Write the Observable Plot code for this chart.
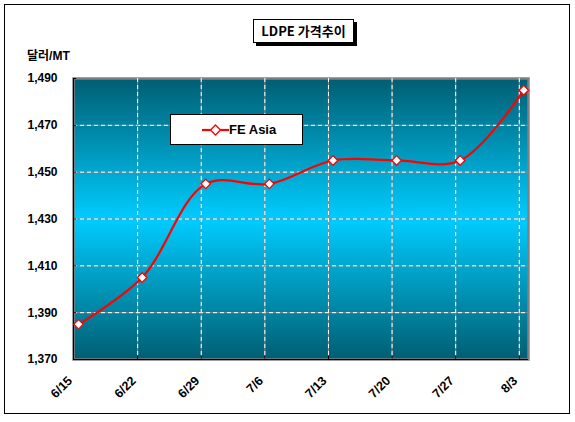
<!DOCTYPE html>
<html>
<head>
<meta charset="utf-8">
<script src="https://cdn.jsdelivr.net/npm/d3@7"></script>
<script src="https://cdn.jsdelivr.net/npm/@observablehq/plot@0.6"></script>
<style>
  html, body { margin: 0; padding: 0; background: #fff; }
  #wrap { position: relative; width: 575px; height: 422px; font-family: "Liberation Sans", Arial, "Noto Sans CJK KR", sans-serif; }
  #wrap svg.plot { position: absolute; left: 0; top: 0; }
  .outer { position: absolute; left: 4px; top: 4px; width: 564px; height: 408px; border: 1px solid #000; box-sizing: content-box; pointer-events: none; }
  .title { position: absolute; left: 253px; top: 19px; width: 99px; height: 22px; border: 1px solid #000; background: #fff; box-shadow: 3px 3px 0 #000; font: bold 13px "Noto Sans CJK KR", "Liberation Sans", sans-serif; line-height: 22px; text-align: center; }
  .ylab { position: absolute; left: 27px; top: 47px; font: bold 12px "Liberation Sans", "Noto Sans CJK KR", sans-serif; line-height: 18px; white-space: nowrap; }
  .legend { position: absolute; left: 170px; top: 114px; width: 131px; height: 29px; border: 1px solid #000; background: #fff; }
  .legend svg { position: absolute; left: 31px; top: 8px; }
  .legend span { position: absolute; left: 58px; top: 6px; font: bold 13px "Liberation Sans", Arial, sans-serif; line-height: 18px; }
</style>
</head>
<body>
<div id="wrap"></div>
<script>
const dates = ["6/15", "6/22", "6/29", "7/6", "7/13", "7/20", "7/27", "8/3"];
const prices = [1385, 1405, 1445, 1445, 1455, 1455, 1455, 1485];
const yTicks = [1370, 1390, 1410, 1430, 1450, 1470, 1490];
const seriesName = "FE Asia";
const chartTitle = "LDPE 가격추이";
const unitLabel = "달러/MT";

const data = dates.map((d, i) => ({i, date: d, price: prices[i]}));
const xDomain = [-0.079, dates.length - 1 + 0.074];
const gridShift = -4.5;

const svg = Plot.plot({
  width: 575,
  height: 422,
  marginLeft: 73,
  marginRight: 47,
  marginTop: 78,
  marginBottom: 63,
  style: {fontFamily: "'Liberation Sans', Arial, sans-serif", background: "transparent", overflow: "visible"},
  x: {domain: xDomain, axis: null},
  y: {domain: [yTicks[0], yTicks[yTicks.length - 1]], axis: null},
  marks: [
    Plot.frame({fill: "url(#bgGrad)", stroke: "#808080", strokeWidth: 2.5}),
    Plot.ruleY(yTicks.slice(1, -1), {stroke: "#8a8a8a", strokeWidth: 1}),
    Plot.ruleY(yTicks.slice(1, -1), {stroke: "white", strokeWidth: 1, strokeDasharray: "4,3"}),
    Plot.ruleX(data.slice(1), {x: "i", dx: gridShift, stroke: "#8a8a8a", strokeWidth: 1}),
    Plot.ruleX(data.slice(1), {x: "i", dx: gridShift, stroke: "white", strokeWidth: 1, strokeDasharray: "4,3"}),
    Plot.ruleX([xDomain[0]], {stroke: "black", strokeWidth: 1}),
    Plot.ruleY([yTicks[0]], {stroke: "black", strokeWidth: 1}),
    Plot.ruleY(yTicks, {x1: xDomain[0], x2: xDomain[0] + 0.05, stroke: "black"}),
    Plot.ruleX(data.slice(1), {x: "i", dx: gridShift, y1: yTicks[0], y2: yTicks[0] + 1.5, stroke: "black"}),
    Plot.line(data, {x: "i", y: "price", curve: "catmull-rom", stroke: "#ff0000", strokeWidth: 2.2}),
    Plot.dot(data, {x: "i", y: "price", symbol: "square", r: 3.8, rotate: 45, fill: "white", stroke: "#ff0000", strokeWidth: 1.3}),
    Plot.text(yTicks, {y: d => d, frameAnchor: "left", dx: -16, textAnchor: "end", text: d => d3.format(",")(d), fontWeight: "bold", fontSize: 12}),
    Plot.text(data, {x: "i", frameAnchor: "bottom", text: "date", rotate: -45, textAnchor: "end", dx: gridShift - 1, dy: 22, fontWeight: "bold", fontSize: 12.5})
  ]
});
svg.classList.add("plot");

// gradient background definition
const NS = "http://www.w3.org/2000/svg";
const defs = document.createElementNS(NS, "defs");
const grad = document.createElementNS(NS, "linearGradient");
grad.setAttribute("id", "bgGrad");
grad.setAttribute("x1", "0"); grad.setAttribute("y1", "0");
grad.setAttribute("x2", "0"); grad.setAttribute("y2", "1");
[[0, "#005e72"], [0.5, "#00ccff"], [1, "#005e72"]].forEach(([o, c]) => {
  const s = document.createElementNS(NS, "stop");
  s.setAttribute("offset", o);
  s.setAttribute("stop-color", c);
  grad.appendChild(s);
});
defs.appendChild(grad);
svg.insertBefore(defs, svg.firstChild);

const wrap = document.getElementById("wrap");
wrap.appendChild(svg);

const outer = document.createElement("div");
outer.className = "outer";
wrap.appendChild(outer);

const title = document.createElement("div");
title.className = "title";
title.textContent = chartTitle;
wrap.appendChild(title);

const ylab = document.createElement("div");
ylab.className = "ylab";
ylab.textContent = unitLabel;
wrap.appendChild(ylab);

const legend = document.createElement("div");
legend.className = "legend";
legend.innerHTML = `<svg width="28" height="14"><line x1="0" y1="7" x2="27" y2="7" stroke="#ff0000" stroke-width="2.2"/><path d="M13.5,2 L18.5,7 L13.5,12 L8.5,7 Z" fill="white" stroke="#ff0000" stroke-width="1.3"/></svg><span></span>`;
legend.querySelector("span").textContent = seriesName;
wrap.appendChild(legend);
</script>
</body>
</html>
